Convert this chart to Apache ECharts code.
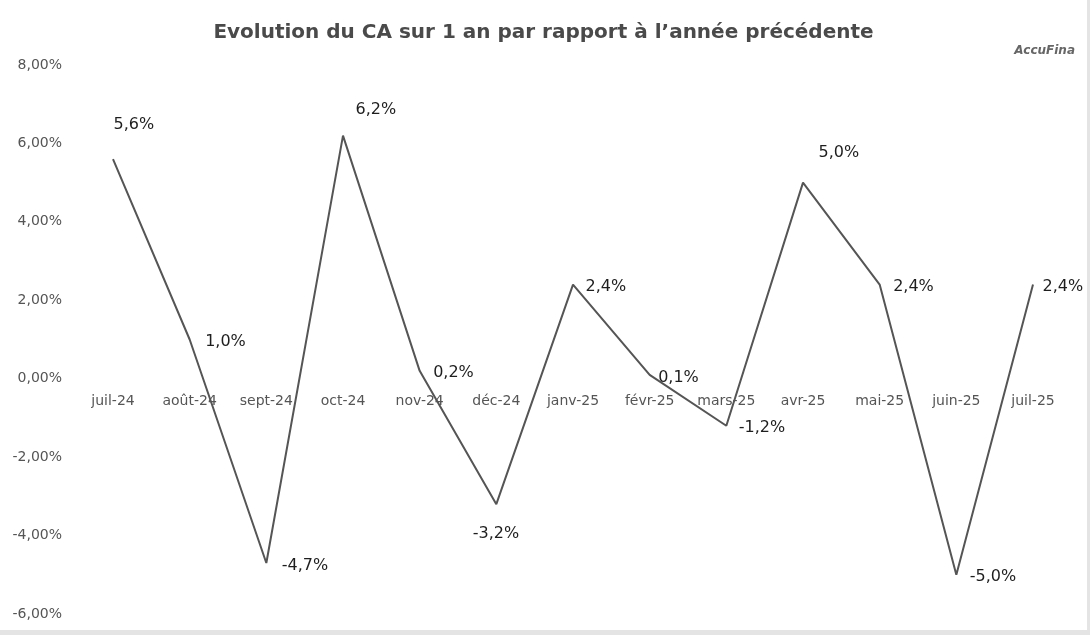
<!DOCTYPE html>
<html>
<head>
<meta charset="utf-8">
<script src="https://cdn.jsdelivr.net/npm/echarts@6/dist/echarts.min.js"></script>
<style>
  html, body { margin: 0; padding: 0; background: #e4e4e4; }
  #chart { width: 1087px; height: 630px; background: #ffffff; }
</style>
</head>
<body>
<div id="chart"></div>
<script>
const categories = ['juil-24', 'août-24', 'sept-24', 'oct-24', 'nov-24', 'déc-24', 'janv-25', 'févr-25', 'mars-25', 'avr-25', 'mai-25', 'juin-25', 'juil-25'];
const values = [5.6, 1.0, -4.7, 6.2, 0.2, -3.2, 2.4, 0.1, -1.2, 5.0, 2.4, -5.0, 2.4];
const yTicks = { min: -6, max: 8, interval: 2 };
const titleText = 'Evolution du CA sur 1 an par rapport à l’année précédente';

// label placement (shift of label left edge / centre from the point)
const labelOffsets = [[0, -34], [15, 2], [15, 3], [12, -26], [13, 2], [-24, 30], [12, 2], [8, 3], [12, 2], [15, -30], [13, 2], [13, 2], [9, 2]];

const fmt = v => v.toFixed(1).replace('.', ',') + '%';

const chart = echarts.init(document.getElementById('chart'));
chart.setOption({
  backgroundColor: '#ffffff',
  animation: false,
  title: {
    text: titleText,
    left: 'center',
    top: 18,
    textStyle: { fontFamily: 'DejaVu Sans', fontSize: 20, fontWeight: 'bold', color: '#4a4a4a' }
  },
  graphic: [{
    type: 'text',
    right: 12,
    top: 45,
    style: { text: 'AccuFina', font: 'italic bold 12px "DejaVu Sans"', fill: '#666666' }
  }],
  grid: { left: 113, right: 54, top: 65, bottom: 16, containLabel: false, outerBoundsMode: 'none' },
  xAxis: {
    type: 'category',
    data: categories,
    boundaryGap: false,
    position: 'bottom',
    offset: -235,
    axisLine: { show: false },
    axisTick: { show: false },
    axisLabel: { margin: 15, fontFamily: 'DejaVu Sans', fontSize: 14, color: '#555555' },
    splitLine: { show: false }
  },
  yAxis: {
    type: 'value',
    min: yTicks.min,
    max: yTicks.max,
    interval: yTicks.interval,
    axisLine: { show: false },
    axisTick: { show: false },
    splitLine: { show: false },
    axisLabel: {
      margin: 51,
      fontFamily: 'DejaVu Sans',
      fontSize: 14,
      color: '#555555',
      formatter: v => v.toFixed(2).replace('.', ',') + '%'
    }
  },
  series: [{
    type: 'line',
    data: values,
    symbol: 'circle',
    symbolSize: 1,
    showSymbol: true,
    itemStyle: { color: 'rgba(0,0,0,0)', borderWidth: 0 },
    lineStyle: { color: '#555555', width: 2 },
    labelLayout: p => ({
      dx: labelOffsets[p.dataIndex][0],
      dy: labelOffsets[p.dataIndex][1],
      hideOverlap: false
    }),
    label: {
      show: true,
      position: 'right',
      distance: 0,
      fontFamily: 'DejaVu Sans',
      fontSize: 16,
      color: '#1e1e1e',
      formatter: p => fmt(p.value)
    }
  }]
});
</script>
</body>
</html>
